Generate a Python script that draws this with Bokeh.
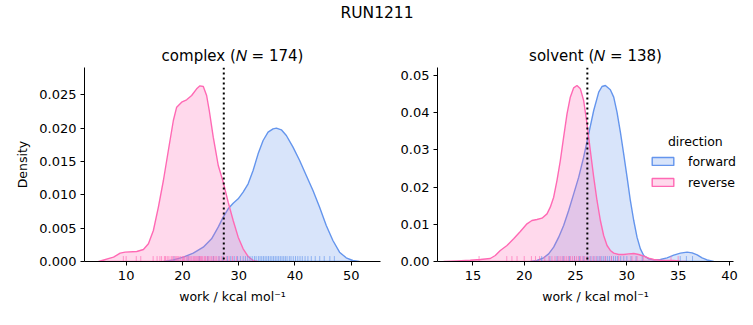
from bokeh.plotting import figure
from bokeh.layouts import row, column
from bokeh.models import Range1d, FixedTicker, Span, Label, Legend, LegendItem, PrintfTickFormatter
from bokeh.embed import file_html
from bokeh.resources import INLINE

FONT = "DejaVu Sans"
BLUE = "#6495ED"
PINK = "#FF69B4"

suptitle = "RUN1211"
directions = ["forward", "reverse"]

# ---- complex panel ----
complex_title = "complex (𝑁 = 174)"
complex_fwd_x = [16.62, 18.39, 20.16, 21.93, 23.70, 25.18, 26.36, 27.25, 28.13, 29.02, 29.91, 30.79,
                 31.68, 32.56, 33.45, 34.34, 35.22, 36.11, 36.70, 37.58, 38.47, 39.65, 40.83, 42.01,
                 43.20, 44.38, 45.56, 46.74, 47.92, 49.10, 50.28, 51.47]
complex_fwd_y = [0.0, 0.00025, 0.00065, 0.00125, 0.00215, 0.0034, 0.00515, 0.00665, 0.0079, 0.00875,
                 0.0094, 0.0104, 0.01165, 0.01365, 0.01615, 0.01815, 0.0194, 0.0199, 0.0200, 0.01975,
                 0.0189, 0.01715, 0.01515, 0.0129, 0.01065, 0.00815, 0.0054, 0.00315, 0.0014, 0.00055,
                 0.00015, 0.0]
complex_rev_x = [5.10, 7.76, 8.94, 9.82, 11.89, 13.07, 13.96, 14.84, 15.73, 16.62, 17.50, 18.39, 18.98,
                 19.86, 20.75, 21.64, 22.53, 23.12, 23.71, 24.30, 24.77, 25.48, 26.37, 27.25, 28.13,
                 29.02, 29.91, 30.79, 31.68, 32.56, 33.45]
complex_rev_y = [0.0, 0.00065, 0.00125, 0.0014, 0.0015, 0.0018, 0.00265, 0.00465, 0.00815, 0.01215,
                 0.01665, 0.02115, 0.02315, 0.0239, 0.02425, 0.0249, 0.0259, 0.02635, 0.02625, 0.0249,
                 0.02265, 0.01865, 0.0144, 0.0119, 0.0089, 0.00615, 0.00365, 0.0019, 0.00075, 0.00015, 0.0]
complex_fwd_rug = [18.5, 21.0, 23.0, 24.5, 25.5, 26.5, 27.2, 28.0, 28.6, 29.2, 29.8, 30.3, 30.8, 31.2,
                   31.6, 32.0, 32.4, 32.8, 33.1, 33.5, 33.8, 34.1, 34.4, 34.7, 35.0, 35.3, 35.6, 35.9,
                   36.2, 36.5, 36.8, 37.1, 37.4, 37.7, 38.0, 38.3, 38.6, 39.0, 39.3, 39.7, 40.1, 40.5,
                   40.9, 41.3, 41.8, 42.3, 42.9, 43.6, 44.4, 45.2, 46.2, 47.0]
complex_rev_rug = [9.5, 10.0, 11.8, 12.6, 14.8, 15.5, 16.0, 16.3, 16.8, 17.0, 17.3, 17.6, 18.0, 18.2,
                   18.5, 18.8, 19.0, 19.2, 19.4, 19.7, 20.0, 20.2, 20.4, 20.7, 21.0, 21.2, 21.5, 21.7,
                   22.0, 22.2, 22.4, 22.6, 22.8, 23.0, 23.2, 23.4, 23.6, 23.9, 24.1, 24.4, 24.6, 24.9,
                   25.2, 25.5, 25.8, 26.1, 26.5, 26.9, 27.3, 27.8, 28.3, 28.9, 29.6]
complex_vline = 27.35
complex_xticks = [10, 20, 30, 40, 50]
complex_yticks = [0.0, 0.005, 0.010, 0.015, 0.020, 0.025]

# ---- solvent panel ----
solvent_title = "solvent (𝑁 = 138)"
solvent_fwd_x = [20.59, 21.24, 21.89, 22.38, 22.87, 23.36, 23.84, 24.33, 24.82, 25.31, 25.79, 26.28,
                 26.77, 27.26, 27.58, 27.91, 28.39, 28.72, 29.04, 29.37, 29.69, 30.02, 30.34, 30.67,
                 30.99, 31.32, 31.64, 32.13, 32.62, 33.27, 33.92, 34.57, 35.22, 35.87, 36.36, 36.85,
                 37.33, 37.82, 38.47]
solvent_fwd_y = [0.0, 0.00027, 0.00099, 0.00206, 0.00385, 0.00654, 0.00968, 0.01371, 0.01819, 0.02267,
                 0.02805, 0.03432, 0.04059, 0.04552, 0.04704, 0.04731, 0.04615, 0.04418, 0.04014,
                 0.03477, 0.02894, 0.02267, 0.0164, 0.01102, 0.00654, 0.0034, 0.00161, 0.00072,
                 0.00045, 0.00054, 0.00099, 0.0017, 0.00224, 0.00251, 0.00233, 0.00179, 0.00099,
                 0.00045, 0.0]
solvent_rev_x = [12.14, 13.44, 14.74, 15.72, 16.69, 17.18, 17.67, 18.32, 18.97, 19.62, 20.27, 20.75,
                 21.24, 21.73, 22.22, 22.54, 22.87, 23.19, 23.52, 23.84, 24.17, 24.49, 24.82, 25.14,
                 25.47, 25.79, 26.12, 26.44, 26.77, 27.09, 27.42, 27.74, 28.07, 28.39, 28.72, 29.21,
                 29.69, 30.18, 30.67, 31.16, 31.64, 32.13, 32.62, 33.27, 33.92, 34.57, 35.22, 35.87]
solvent_rev_y = [0.0, 0.00018, 0.00036, 0.00054, 0.00081, 0.00161, 0.00296, 0.0043, 0.00609, 0.00806,
                 0.01013, 0.01102, 0.01129, 0.01165, 0.01281, 0.01461, 0.01729, 0.02177, 0.02715,
                 0.03342, 0.0397, 0.04418, 0.04668, 0.04731, 0.04642, 0.04328, 0.03701, 0.02984,
                 0.02267, 0.0164, 0.01102, 0.00699, 0.0043, 0.00296, 0.00224, 0.00188, 0.00188,
                 0.00206, 0.00215, 0.00188, 0.00143, 0.0009, 0.00054, 0.00036, 0.00027, 0.00027,
                 0.00009, 0.0]
solvent_fwd_rug = [21.7, 22.5, 23.2, 23.8, 24.4, 24.9, 25.4, 25.8, 26.2, 26.5, 26.8, 27.1, 27.3, 27.5,
                   27.7, 27.9, 28.1, 28.3, 28.5, 28.7, 28.9, 29.1, 29.4, 29.7, 30.0, 30.4, 30.9, 31.5,
                   35.2, 35.8, 36.4]
solvent_rev_rug = [15.6, 18.3, 18.8, 19.3, 20.0, 20.7, 21.1, 21.5, 22.0, 22.4, 22.7, 23.0, 23.3, 23.5,
                   23.7, 23.9, 24.1, 24.3, 24.5, 24.7, 24.9, 25.1, 25.3, 25.5, 25.7, 25.9, 26.1, 26.4,
                   26.7, 27.0, 27.4, 27.9, 28.5, 29.2, 30.5, 31.0, 31.6, 34.3, 35.0]
solvent_vline = 26.15
solvent_xticks = [15, 20, 25, 30, 35, 40]
solvent_yticks = [0.0, 0.01, 0.02, 0.03, 0.04, 0.05]

xlabel = "work / kcal mol⁻¹"
ylabel = "Density"


def style_axis(ax):
    ax.axis_line_color = "black"
    ax.axis_line_width = 1
    ax.major_tick_line_color = "black"
    ax.major_tick_line_width = 1
    ax.major_tick_out = 4
    ax.major_tick_in = 0
    ax.minor_tick_line_color = None
    ax.major_label_text_font = FONT
    ax.major_label_text_font_size = "13px"
    ax.major_label_text_color = "black"
    ax.axis_label_text_font = FONT
    ax.axis_label_text_font_size = "12.5px"
    ax.axis_label_text_font_style = "normal"
    ax.axis_label_text_color = "black"


def panel(title, xr, xbounds, yr, xticks, yticks, yfmt, fwd, rev, rugs, vline, width, bl, br,
          show_ylabel):
    p = figure(width=width, height=295, x_range=Range1d(*xr), y_range=Range1d(*yr),
               toolbar_location=None, output_backend="svg", title=title,
               min_border_left=bl, min_border_right=br, min_border_top=37, min_border_bottom=64)
    p.grid.visible = False
    p.outline_line_color = None
    p.title.text_font = FONT
    p.title.text_font_size = "15px"
    p.title.text_font_style = "normal"
    p.title.text_color = "black"
    p.title.align = "center"
    p.title.standoff = 5
    style_axis(p.xaxis[0])
    style_axis(p.yaxis[0])
    p.xaxis[0].bounds = xbounds
    p.xaxis[0].ticker = FixedTicker(ticks=xticks)
    p.yaxis[0].ticker = FixedTicker(ticks=yticks)
    p.yaxis[0].formatter = PrintfTickFormatter(format=yfmt)
    p.xaxis[0].axis_label = xlabel
    p.xaxis[0].major_label_standoff = 5
    p.xaxis[0].axis_label_standoff = 6
    p.yaxis[0].major_label_standoff = 4
    if show_ylabel:
        p.yaxis[0].axis_label = ylabel
        p.yaxis[0].axis_label_standoff = 6

    patches = []
    for (x, y), col in zip([fwd, rev], [BLUE, PINK]):
        px = list(x) + [x[-1], x[0]]
        py = list(y) + [0, 0]
        patches.append(p.patch(px, py, fill_color=col, fill_alpha=0.25,
                               line_color=col, line_width=1.4))

    h = 0.028 * (yr[1] - yr[0])
    for r, col in zip(rugs, [BLUE, PINK]):
        p.segment(x0=r, y0=0, x1=r, y1=h, line_color=col, line_alpha=0.65, line_width=1)

    p.add_layout(Span(location=vline, dimension="height", line_color="black",
                      line_width=2, line_dash="2 3"))
    return p, patches


p1, _ = panel(complex_title, (2.6, 55.2), (2.6, 55.2), (0, 0.0291), complex_xticks, complex_yticks,
              "%.3f", (complex_fwd_x, complex_fwd_y), (complex_rev_x, complex_rev_y),
              (complex_fwd_rug, complex_rev_rug), complex_vline, 395, 84, 15, True)
p2, pr = panel(solvent_title, (11.55, 42.34), (11.55, 40.39), (0, 0.05215), solvent_xticks,
               solvent_yticks, "%.2f", (solvent_fwd_x, solvent_fwd_y), (solvent_rev_x, solvent_rev_y),
               (solvent_fwd_rug, solvent_rev_rug), solvent_vline, 358, 42, 0, False)

legend = Legend(items=[LegendItem(label=directions[0], renderers=[pr[0]]),
                       LegendItem(label=directions[1], renderers=[pr[1]])],
                location=(212, 69), padding=0, margin=0, border_line_color=None,
                background_fill_alpha=0, glyph_width=27, glyph_height=10, label_standoff=12,
                spacing=1, label_height=20, label_text_font=FONT, label_text_font_size="12.5px",
                label_text_color="black")
p2.add_layout(legend)
p2.add_layout(Label(x=36.67, y=0.0323, text="direction", text_align="center",
                    text_baseline="middle", text_font=FONT, text_font_size="12.5px",
                    text_color="black"))

t = figure(width=753, height=30, x_range=Range1d(0, 753), y_range=Range1d(0, 30),
           toolbar_location=None, output_backend="svg", min_border=0,
           x_axis_location=None, y_axis_location=None)
t.outline_line_color = None
t.xgrid.visible = False
t.ygrid.visible = False
t.add_layout(Label(x=376.5, y=18, text=suptitle, text_align="center", text_baseline="middle",
                   text_font=FONT, text_font_size="15.5px", text_color="black"))

layout = column(t, row(p1, p2))
open("out.html", "w").write(file_html(layout, INLINE))
